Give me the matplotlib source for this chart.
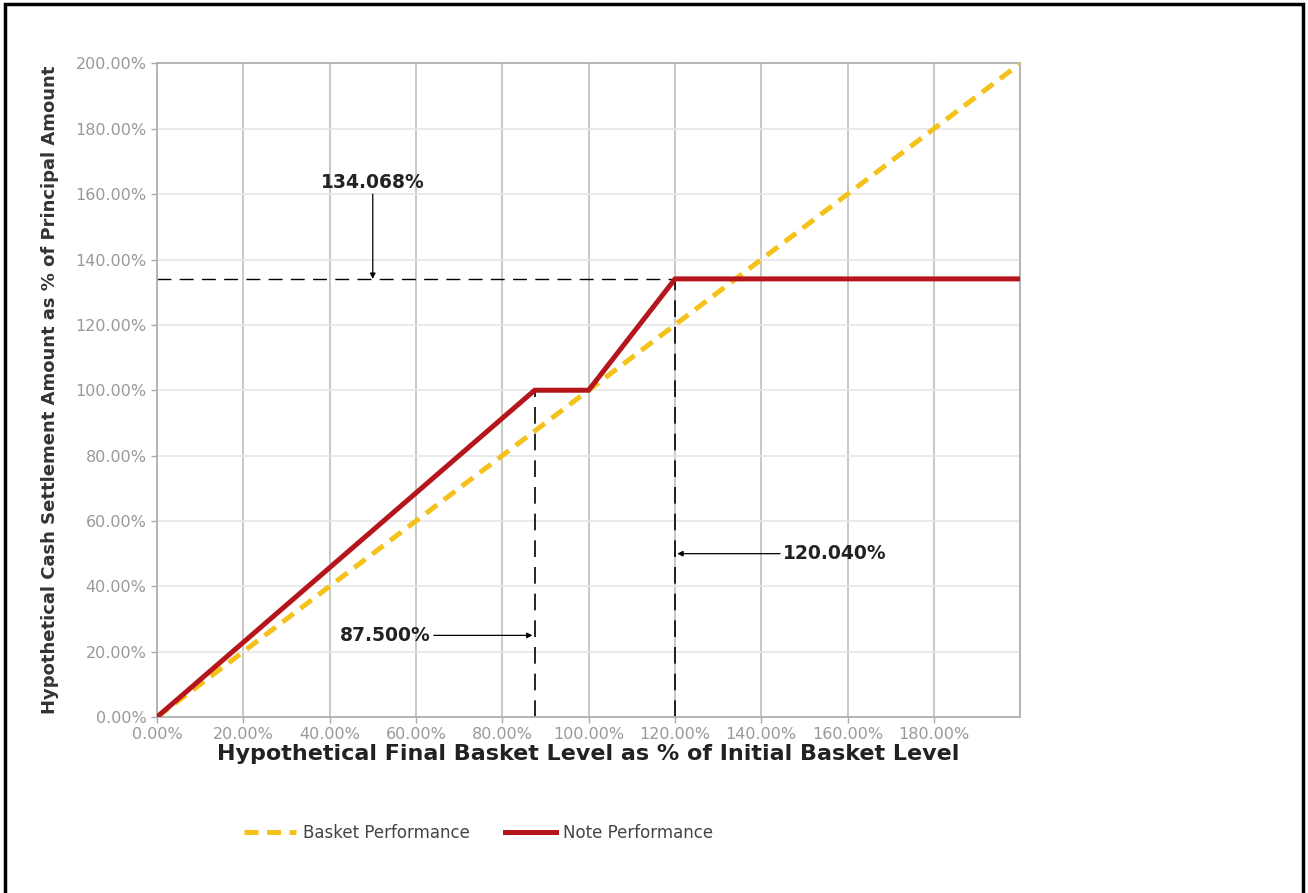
import matplotlib
matplotlib.use("Agg")
import matplotlib.pyplot as plt
from matplotlib.patches import Rectangle

# data (percent)
basket_x = [0, 200]
basket_y = [0, 200]
note_x = [0, 87.5, 100, 120.04, 200]
note_y = [0, 100, 100, 134.068, 134.068]

cap_level = 134.068
buffer_level = 87.5
cap_x = 120.04

x_ticks = [0, 20, 40, 60, 80, 100, 120, 140, 160, 180]
y_ticks = [0, 20, 40, 60, 80, 100, 120, 140, 160, 180, 200]

fig = plt.figure(figsize=(13.08, 8.93), dpi=100)
ax = fig.add_axes([0.120, 0.197, 0.660, 0.732])

# gridlines
for x in x_ticks + [200]:
    ax.axvline(x, color='#c4c4c4', lw=1.3, zorder=0)
for y in y_ticks:
    ax.axhline(y, color='#e6e6e6', lw=1.2, zorder=0)

# reference lines
ax.plot([0, cap_x], [cap_level, cap_level], color='black', lw=1, dashes=(10, 6), zorder=2)
ax.plot([buffer_level, buffer_level], [0, 100], color='black', lw=1.2, dashes=(10, 6), zorder=2)
ax.plot([cap_x, cap_x], [0, cap_level], color='black', lw=1.2, dashes=(10, 6), zorder=2)

bl, = ax.plot(basket_x, basket_y, color='#F4C21B', lw=3.6, dashes=(2.8, 1.7),
              label='Basket Performance', zorder=3)
nl, = ax.plot(note_x, note_y, color='#B5161B', lw=3.6, label='Note Performance',
              solid_joinstyle='miter', zorder=4)

# annotations
arrow = dict(arrowstyle='-|>', color='black', lw=0.9, mutation_scale=8, shrinkA=0, shrinkB=0)
ax.text(50, 163.5, '134.068%', ha='center', va='center',
        fontsize=13.5, fontweight='bold', color='#222222')
ax.annotate('', xy=(50, cap_level), xytext=(50, 160), arrowprops=arrow)
ax.annotate('87.500%', xy=(buffer_level - 0.5, 25), xytext=(63.5, 25), ha='right', va='center',
            fontsize=13.5, fontweight='bold', color='#222222', arrowprops=arrow)
ax.annotate('120.040%', xy=(cap_x + 0.5, 50), xytext=(145, 50), ha='left', va='center',
            fontsize=13.5, fontweight='bold', color='#222222', arrowprops=arrow)

ax.set_xlim(0, 200)
ax.set_ylim(0, 200)
ax.set_xticks(x_ticks)
ax.set_yticks(y_ticks)
ax.set_xticklabels([f'{v:.2f}%' for v in x_ticks])
ax.set_yticklabels([f'{v:.2f}%' for v in y_ticks])
ax.tick_params(colors='#aaaaaa', labelcolor='#999999', labelsize=11.5, length=4, width=1)
for s in ax.spines.values():
    s.set_color('#b0b0b0')
    s.set_linewidth(1.3)

ax.set_xlabel('Hypothetical Final Basket Level as % of Initial Basket Level',
              fontsize=16, fontweight='bold', color='#222222', labelpad=1)
ax.set_ylabel('Hypothetical Cash Settlement Amount as % of Principal Amount',
              fontsize=13, fontweight='bold', color='#333333', labelpad=12)

fig.legend(handles=[bl, nl], loc='center', bbox_to_anchor=(0.366, 0.067), ncol=2,
           frameon=False, fontsize=12, labelcolor='#444444', handlelength=3.1,
           columnspacing=2.1, handletextpad=0.4)

# outer frame (bottom edge cut off as in the scan)
fig.patches.append(Rectangle((0.004, -0.05), 0.992, 1.046, transform=fig.transFigure,
                             fill=False, edgecolor='black', lw=2.5))

fig.savefig('out.png', dpi=100)
